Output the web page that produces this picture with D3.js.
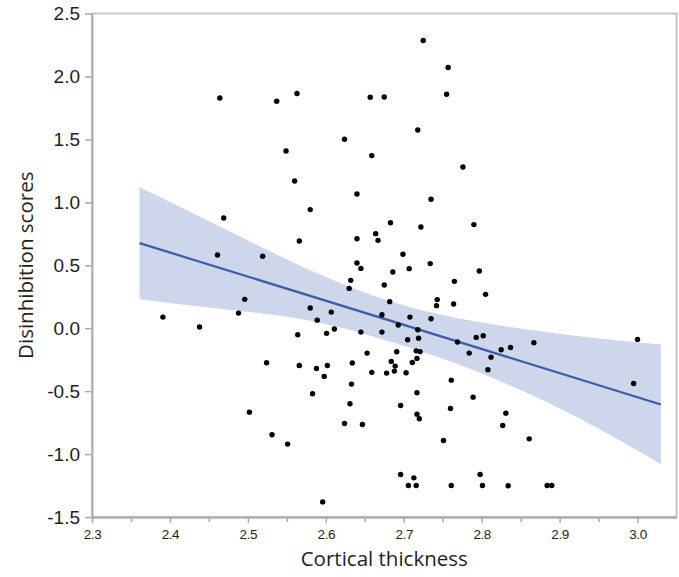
<!doctype html>
<html lang=en>
<head>
  <meta charset=utf-8>
  <title>Disinhibition scores vs cortical thickness</title>
  <script src="https://cdn.jsdelivr.net/npm/d3@7"></script>
  <style>
    html, body {
      margin: 0;
      background: #fff;
    }
    svg {
      display: block;
      font-family: "Open Sans", sans-serif;
    }
    .axis .domain {
      stroke: #b0b0b0;
      stroke-width: 2;
    }
    .axis line {
      stroke: #a8a8a8;
      stroke-width: 1.5;
    }
    .axis text {
      fill: #1e1e1e;
    }
    .title {
      fill: #1e1e1e;
      font-size: 20.5px;
    }
  </style>
</head>
<body>
<svg id=chart width=679 height=577></svg>
<script>
  // points
  const thickness = [
    2.464, 2.537, 2.563, 2.549, 2.624, 2.657, 2.675, 2.659, 2.725, 2.757,
    2.755, 2.718, 2.776, 2.560, 2.580, 2.469, 2.566, 2.461, 2.519, 2.632,
    2.630, 2.496, 2.488, 2.580, 2.607, 2.589, 2.391, 2.438, 2.564, 2.601,
    2.611, 2.640, 2.735, 2.683, 2.722, 2.790, 2.640, 2.664, 2.667, 2.699,
    2.640, 2.645, 2.707, 2.734, 2.797, 2.686, 2.675, 2.765, 2.805, 2.682,
    2.743, 2.742, 2.764, 2.672, 2.708, 2.735, 2.693, 2.718, 2.645, 2.672,
    2.705, 2.719, 2.769, 2.793, 2.802, 2.825, 2.837, 2.867, 2.812, 2.784,
    2.808, 2.716, 2.721, 2.691, 2.653, 2.717, 2.711, 2.684, 2.689, 2.688,
    2.678, 2.703, 2.659, 2.634, 2.524, 2.566, 2.588, 2.602, 2.598, 2.633,
    2.583, 2.631, 2.696, 2.717, 2.761, 2.789, 2.760, 2.717, 2.720, 2.502,
    2.624, 2.647, 2.531, 2.551, 2.751, 2.696, 2.713, 2.706, 2.716, 2.761,
    2.798, 2.801, 2.596, 2.834, 2.884, 2.890, 3.000, 2.995, 2.831, 2.827,
    2.861
  ]
  const disinhibition = [
    1.829, 1.803, 1.864, 1.408, 1.501, 1.835, 1.837, 1.371, 2.285, 2.071,
    1.858, 1.575, 1.281, 1.169, 0.942, 0.875, 0.693, 0.581, 0.571, 0.380,
    0.316, 0.229, 0.120, 0.160, 0.128, 0.064, 0.088, 0.009, -0.052, -0.041,
    -0.007, 1.066, 1.024, 0.838, 0.804, 0.823, 0.711, 0.751, 0.698, 0.587,
    0.518, 0.475, 0.473, 0.513, 0.454, 0.446, 0.343, 0.372, 0.269, 0.211,
    0.227, 0.179, 0.192, 0.107, 0.088, 0.075, 0.025, -0.012, -0.031, -0.031,
    -0.092, -0.079, -0.110, -0.073, -0.060, -0.171, -0.153, -0.115, -0.230, -0.198,
    -0.330, -0.180, -0.186, -0.187, -0.198, -0.240, -0.272, -0.264, -0.301, -0.341,
    -0.357, -0.354, -0.351, -0.277, -0.274, -0.296, -0.320, -0.296, -0.383, -0.444,
    -0.521, -0.600, -0.614, -0.513, -0.413, -0.548, -0.638, -0.683, -0.720, -0.667,
    -0.757, -0.765, -0.847, -0.921, -0.892, -1.162, -1.189, -1.250, -1.250, -1.250,
    -1.162, -1.250, -1.380, -1.252, -1.250, -1.250, -0.089, -0.439, -0.675, -0.773,
    -0.879
  ]

  // fit line and its confidence band, read at a few x positions
  const fitX = [2.361, 3.03]
  const fitY = [0.676, -0.606]
  const bandX = [2.361, 2.47, 2.58, 2.69, 2.80, 2.92, 3.03]
  const bandUpper = [1.12, 0.79, 0.46, 0.20, 0.045, -0.06, -0.13]
  const bandLower = [0.23, 0.15, 0.06, -0.12, -0.36, -0.70, -1.08]

  const xTicks = [2.3, 2.4, 2.5, 2.6, 2.7, 2.8, 2.9, 3.0]
  const xMinorTicks = [2.35, 2.45, 2.55, 2.65, 2.75, 2.85, 2.95]
  const yTicks = [-1.5, -1.0, -0.5, 0.0, 0.5, 1.0, 1.5, 2.0, 2.5]

  const plotLeft = 92
  const plotRight = 676.5
  const plotTop = 13.5
  const plotBottom = 517

  const svg = d3.select('#chart')

  const x = d3.scaleLinear()
    .domain([2.3, 3.05])
    .range([plotLeft, plotRight])
  const y = d3.scaleLinear()
    .domain([-1.5, 2.5])
    .range([plotBottom, plotTop])

  // frame
  svg.append('rect')
    .attr('x', plotLeft)
    .attr('y', plotTop)
    .attr('width', plotRight - plotLeft)
    .attr('height', plotBottom - plotTop)
    .attr('fill', 'none')
    .attr('stroke', '#c6c6c6')
    .attr('stroke-width', 2)

  // confidence band
  const band = bandX.map((v, i) => ({ x: v, lo: bandLower[i], hi: bandUpper[i] }))
  svg.append('path')
    .datum(band)
    .attr('fill', '#cdd6ea')
    .attr('d', d3.area()
      .curve(d3.curveNatural)
      .x(d => x(d.x))
      .y0(d => y(d.lo))
      .y1(d => y(d.hi)))

  // fit line
  svg.append('path')
    .datum(fitX.map((v, i) => [v, fitY[i]]))
    .attr('fill', 'none')
    .attr('stroke', '#3b5daa')
    .attr('stroke-width', 2.2)
    .attr('d', d3.line()
      .x(d => x(d[0]))
      .y(d => y(d[1])))

  // points
  svg.append('g')
    .selectAll('circle')
    .data(thickness.map((v, i) => [v, disinhibition[i]]))
    .join('circle')
      .attr('cx', d => x(d[0]))
      .attr('cy', d => y(d[1]))
      .attr('r', 2.7)
      .attr('fill', '#000')

  // axes
  svg.append('g')
    .attr('class', 'axis')
    .attr('transform', 'translate(0,' + plotBottom + ')')
    .call(d3.axisBottom(x).tickValues(xMinorTicks).tickSize(5).tickSizeOuter(0).tickFormat(''))
  svg.append('g')
    .attr('class', 'axis')
    .attr('transform', 'translate(0,' + plotBottom + ')')
    .call(d3.axisBottom(x).tickValues(xTicks).tickSize(6).tickPadding(6).tickSizeOuter(0)
      .tickFormat(d => d.toFixed(1)))
    .call(g => g.selectAll('text').style('font-size', '13.5px').style('letter-spacing', '-0.4px'))

  svg.append('g')
    .attr('class', 'axis')
    .attr('transform', 'translate(' + plotLeft + ',0)')
    .call(d3.axisLeft(y).tickValues(yTicks).tickSize(7).tickPadding(5).tickSizeOuter(0)
      .tickFormat(d => d.toFixed(1)))
    .call(g => g.selectAll('text').style('font-size', '19px'))

  // titles
  svg.append('text')
    .attr('class', 'title')
    .attr('x', (plotLeft + plotRight) / 2)
    .attr('y', 566)
    .attr('text-anchor', 'middle')
    .text('Cortical thickness')
  svg.append('text')
    .attr('class', 'title')
    .attr('transform', 'translate(33,' + (plotTop + plotBottom) / 2 + ') rotate(-90)')
    .attr('text-anchor', 'middle')
    .text('Disinhibition scores')
</script>
</body>
</html>
